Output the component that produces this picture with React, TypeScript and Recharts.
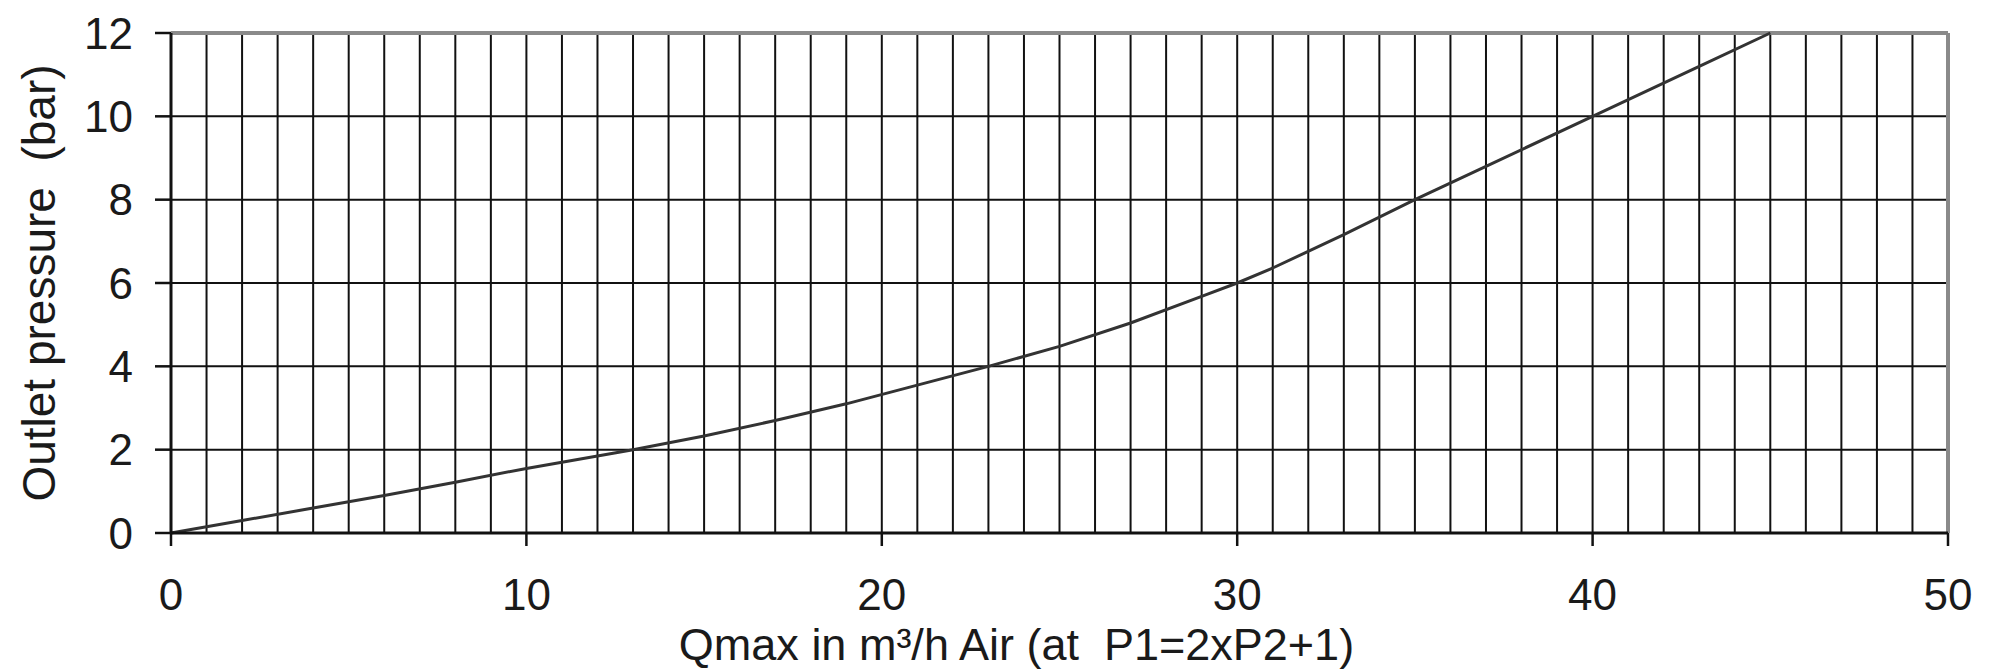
import React from "react";
import {
  CartesianGrid,
  Label,
  Line,
  LineChart,
  ReferenceLine,
  XAxis,
  YAxis,
} from "recharts";

// Qmax (m³/h) vs outlet pressure (bar)
const flow = [0, 2, 4, 6, 8, 10, 12, 13, 15, 17, 19, 21, 23, 25, 27, 29, 30, 31, 33, 35, 37, 40, 43, 45];
const pressure = [0, 0.3, 0.6, 0.9, 1.22, 1.55, 1.85, 2.0, 2.33, 2.7, 3.1, 3.55, 4.0, 4.48, 5.04, 5.68, 6.0, 6.36, 7.16, 8.0, 8.8, 10.0, 11.2, 12.0];

const xTicks = [0, 10, 20, 30, 40, 50];
const yTicks = [0, 2, 4, 6, 8, 10, 12];
const gridX = Array.from({ length: 49 }, (_, i) => i + 1);

const data = flow.map((q, i) => ({ q, p: pressure[i] }));

const FONT = "'Liberation Sans', Arial, sans-serif";
const TICK = { fill: "#1a1a1a", fontSize: 44, fontFamily: FONT };

export default function App() {
  return (
    <div style={{ width: 1990, height: 670, background: "#fff" }}>
      <style>{`body{margin:0}`}</style>
      <LineChart
        width={1990}
        height={670}
        data={data}
        margin={{ top: 33, right: 42, left: 0, bottom: 0 }}
      >
        <CartesianGrid
          vertical={false}
          stroke="#111"
          strokeWidth={2}
          strokeOpacity={1}
        />
        {gridX.map((v) => (
          <ReferenceLine key={v} x={v} stroke="#111" strokeWidth={2} />
        ))}
        <ReferenceLine y={12} stroke="#8a8a8a" strokeWidth={4} />
        <ReferenceLine x={50} stroke="#8a8a8a" strokeWidth={4} />
        <XAxis
          dataKey="q"
          type="number"
          domain={[0, 50]}
          ticks={xTicks}
          interval={0}
          height={137}
          tick={TICK}
          tickSize={13}
          tickMargin={33}
          stroke="#111"
          strokeWidth={3}
          tickLine={{ stroke: "#111", strokeWidth: 2.5 }}
        >
          <Label
            content={({ viewBox }: any) => (
              <text
                x={viewBox.x + viewBox.width / 2 - 43}
                y={viewBox.y + 127}
                textAnchor="middle"
                fill="#1a1a1a"
                fontSize={45}
                fontFamily={FONT}
                style={{ whiteSpace: "pre" }}
              >
                {"Qmax in m³/h Air (at  P1=2xP2+1)"}
              </text>
            )}
          />
        </XAxis>
        <YAxis
          type="number"
          domain={[0, 12]}
          ticks={yTicks}
          interval={0}
          width={171}
          tick={TICK}
          tickSize={16}
          tickMargin={22}
          stroke="#111"
          strokeWidth={3}
          tickLine={{ stroke: "#111", strokeWidth: 2.5 }}
        >
          <Label
            content={({ viewBox }: any) => {
              const cy = viewBox.y + viewBox.height / 2;
              return (
                <text
                  x={39}
                  y={cy}
                  transform={`rotate(-90 39 ${cy})`}
                  textAnchor="middle"
                  dominantBaseline="central"
                  fill="#1a1a1a"
                  fontSize={46}
                  fontFamily={FONT}
                  style={{ whiteSpace: "pre" }}
                >
                  {"Outlet pressure  (bar)"}
                </text>
              );
            }}
          />
        </YAxis>
        <Line
          type="linear"
          dataKey="p"
          stroke="#333"
          strokeWidth={3}
          dot={false}
          isAnimationActive={false}
        />
      </LineChart>
    </div>
  );
}
